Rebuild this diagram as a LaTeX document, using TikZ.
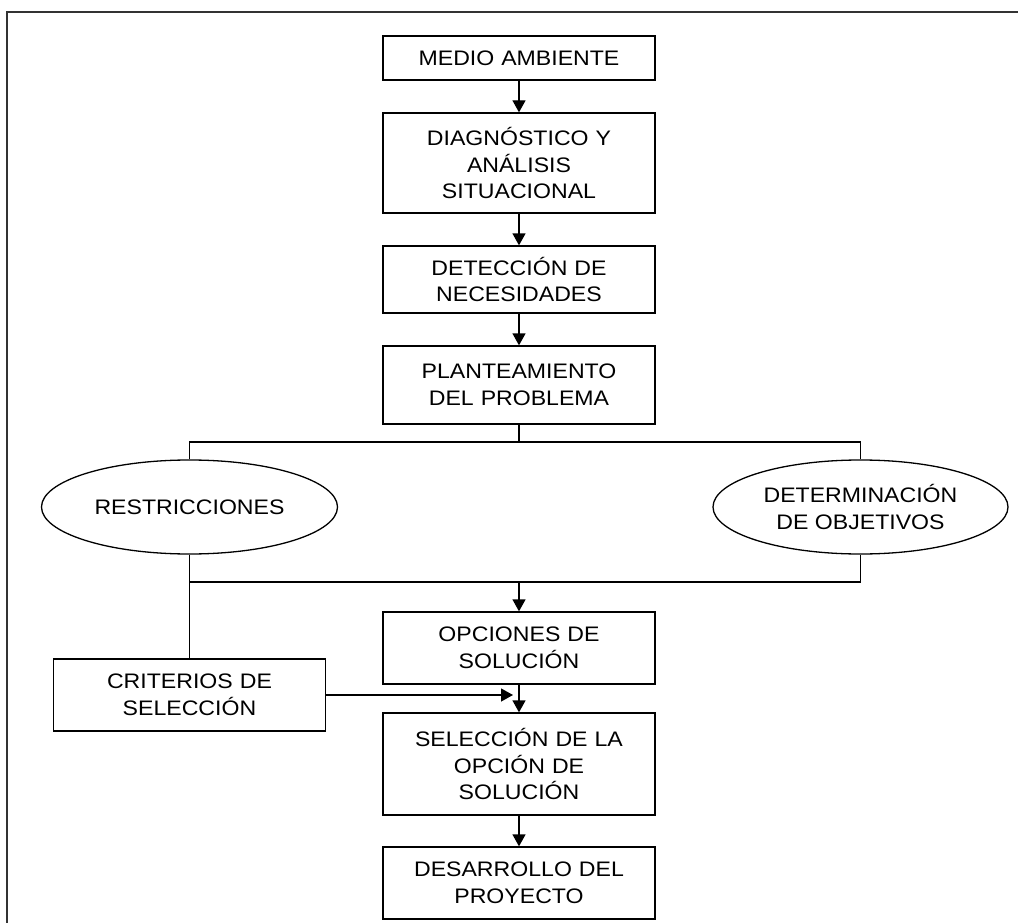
\documentclass[tikz,border=0pt]{standalone}
\usepackage{fontspec}
\setmainfont{Liberation Sans}[FakeStretch=1.1]
\usepackage{tikz}
\usetikzlibrary{shapes.geometric, arrows.meta, positioning, calc}

\tikzset{
  stagebox/.style={draw, line width=1.3pt, minimum width=272pt, text width=250pt, align=center, inner sep=0pt},
  goaloval/.style={draw, ellipse, line width=1.3pt, minimum width=296pt, minimum height=94pt, align=center, inner sep=0pt},
  flow/.style={line width=1.3pt, -{Triangle[length=12pt, width=13pt]}},
  link/.style={line width=1.3pt}
}

\begin{document}
\begin{tikzpicture}[x=1pt, y=-1pt, font=\fontsize{21}{26.7}\selectfont]
  \useasboundingbox (0,0) rectangle (1018,923);
  % frame
  \draw[line width=1.8pt, black!80] (7,923) -- (7,12) -- (1018,12);

  % main column
  \node[stagebox, minimum height=44pt] (medio) at (519,58) {MEDIO AMBIENTE};
  \node[stagebox, minimum height=100pt] (diag) at (519,163) {DIAGNÓSTICO Y\\ANÁLISIS\\SITUACIONAL};
  \node[stagebox, minimum height=67pt] (deteccion) at (519,279.5) {DETECCIÓN DE\\NECESIDADES};
  \node[stagebox, minimum height=78pt] (plant) at (519,385) {PLANTEAMIENTO\\DEL PROBLEMA};
  \node[goaloval] (restr) at (189.5,507) {RESTRICCIONES};
  \node[goaloval, minimum width=295pt] (objet) at (860.5,507) {DETERMINACIÓN\\DE OBJETIVOS};
  \node[stagebox, minimum height=72pt] (opciones) at (519,648) {OPCIONES DE\\SOLUCIÓN};
  \node[stagebox, minimum height=72pt] (criterios) at (189.5,695) {CRITERIOS DE\\SELECCIÓN};
  \node[stagebox, minimum height=102pt] (seleccion) at (519,764) {SELECCIÓN DE LA\\OPCIÓN DE\\SOLUCIÓN};
  \node[stagebox, minimum height=72pt] (desarrollo) at (519,883) {DESARROLLO DEL\\PROYECTO};

  % junctions
  \coordinate (split) at (519,442);
  \coordinate (merge) at (519,582);
  \coordinate (feed) at (513,695);

  % connectors
  \draw[flow] (medio) -- (diag);
  \draw[flow] (diag) -- (deteccion);
  \draw[flow] (deteccion) -- (plant);
  \draw[link] (plant) -- (split);
  \draw[link] (restr.north) |- (split) -| (objet.north);
  \draw[link] (restr.south) |- (merge) -| (objet.south);
  \draw[flow] (merge) -- (opciones);
  \draw[link] (restr.south) -- (criterios.north);
  \draw[flow] (opciones) -- (seleccion);
  \draw[flow] (criterios.east) -- (feed);
  \draw[flow] (seleccion) -- (desarrollo);
\end{tikzpicture}
\end{document}
